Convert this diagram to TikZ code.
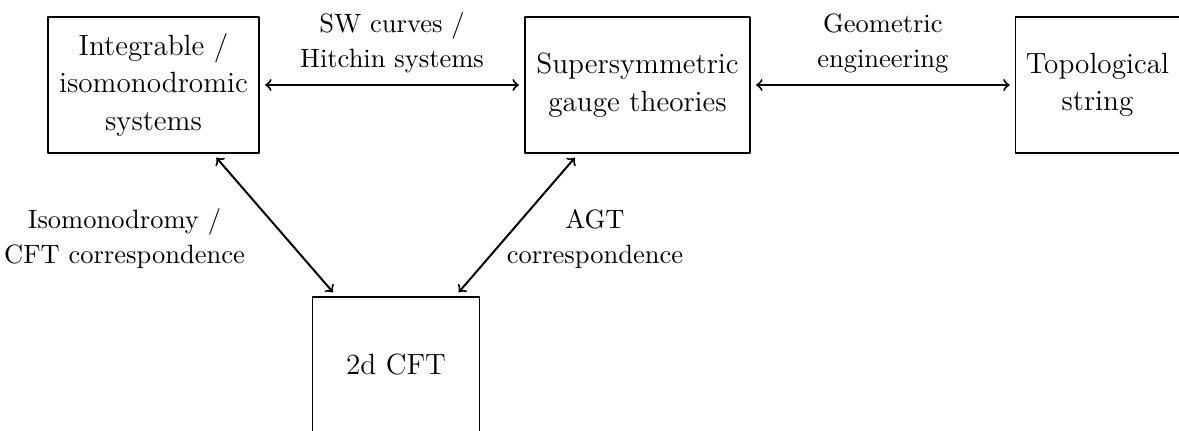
\documentclass[tikz,border=0pt]{standalone}
\begin{document}
\begin{tikzpicture}[line join=bevel,
  box/.style={draw, line width=0.45pt, align=center, minimum height=54.4pt, inner sep=0pt, font=\fontsize{11.7pt}{15pt}\selectfont},
  link/.style={<->, line width=0.8pt, shorten <=2.2pt, shorten >=2.2pt},
  lbl/.style={align=center, font=\fontsize{10.6pt}{14pt}\selectfont}]
\useasboundingbox (0pt,0pt) rectangle (471.6pt,172pt);
%%
  % Node: int
  \node[box, minimum width=84.4pt] (int) at (61.4pt,138pt) {Integrable /\\isomonodromic\\systems};
  % Node: susy
  \node[box, minimum width=90pt] (susy) at (255pt,138pt) {Supersymmetric\\gauge theories};
  % Node: top
  \node[box, minimum width=65.4pt] (top) at (439pt,138pt) {Topological\\string};
  % Node: cft
  \node[box, minimum width=66.8pt] (cft) at (158.4pt,26pt) {2d CFT};
  % Edge: int <-> susy
  \draw[link] (int) -- (susy) node[lbl, midway, above=1pt] (swlbl) {SW curves /\\Hitchin systems};
  % Edge: susy <-> top
  \draw[link] (susy) -- (top) node[lbl, midway, above=1pt] (gelbl) {Geometric\\engineering};
  % Edge: int <-> cft
  \draw[link] (int) -- (cft);
  \node[lbl] (isolbl) at (49.8pt,76.7pt) {Isomonodromy /\\CFT correspondence};
  % Edge: susy <-> cft
  \draw[link] (susy) -- (cft);
  \node[lbl] (agtlbl) at (238pt,76.4pt) {AGT\\correspondence};
%
\end{tikzpicture}
\end{document}
